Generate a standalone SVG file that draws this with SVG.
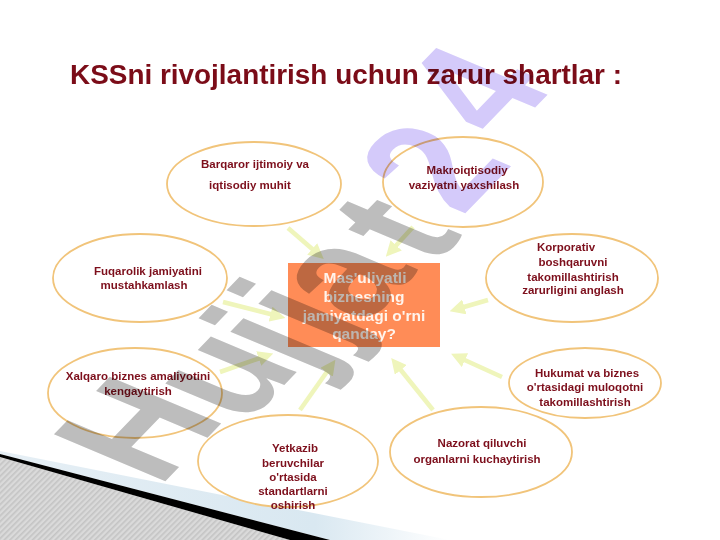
<svg xmlns="http://www.w3.org/2000/svg" width="720" height="540" viewBox="0 0 720 540">
<defs>
<style>
.ell{fill:#ffffff;stroke:#f1c47a;stroke-width:1.8}
.t{font-family:"Liberation Sans",Arial,sans-serif;font-weight:bold;font-size:11.5px;fill:#7d0f1c;text-anchor:middle}
.bt{font-family:"Liberation Sans",Arial,sans-serif;font-weight:bold;font-size:15.5px;fill:#fff4ec;text-anchor:middle}
.con{stroke:#eff5bb;stroke-width:4.5;fill:none;marker-end:url(#ah)}
.wm{font-family:"Liberation Sans",Arial,sans-serif;font-weight:bold;font-size:100px;text-anchor:middle;mix-blend-mode:multiply;fill:#bdbdbd}
.wp{fill:#d4cafa}
</style>
<marker id="ah" markerWidth="3.4" markerHeight="3.4" refX="1.7" refY="1.7" orient="auto" markerUnits="strokeWidth">
<path d="M0,0 L3.4,1.7 L0,3.4 Z" fill="#eff5bb"/>
</marker>
<pattern id="stripes" width="4" height="4" patternUnits="userSpaceOnUse" patternTransform="rotate(45)">
<rect width="4" height="4" fill="#dadada"/>
<rect width="1.6" height="4" fill="#c4c4c4"/>
</pattern>
<linearGradient id="blue" x1="0" y1="0" x2="1" y2="0">
<stop offset="0" stop-color="#e6eff5"/>
<stop offset="0.7" stop-color="#d9e8f1"/>
<stop offset="1" stop-color="#ffffff"/>
</linearGradient>
</defs>
<rect width="720" height="540" fill="#ffffff"/>
<g id="decoration">
<polygon points="0,451 450,540 330,540 0,454" fill="url(#blue)"/>
<polygon points="0,457 290,540 0,540" fill="url(#stripes)"/>
<polygon points="0,454 330,540 290,540 0,457" fill="#000000"/>
</g>
<g id="connectors">
<line class="con" x1="288" y1="228" x2="318" y2="254"/>
<line class="con" x1="413" y1="227" x2="391" y2="251"/>
<line class="con" x1="488" y1="300" x2="457" y2="309"/>
<line class="con" x1="502" y1="377" x2="458" y2="357"/>
<line class="con" x1="433" y1="410" x2="396" y2="364"/>
<line class="con" x1="300" y1="410" x2="331" y2="366"/>
<line class="con" x1="220" y1="372" x2="266" y2="356"/>
<line class="con" x1="223" y1="302" x2="278" y2="316"/>
</g>
<g id="n1">
<ellipse class="ell" cx="254" cy="184" rx="87" ry="42"/>
<text class="t" x="255" y="168">Barqaror ijtimoiy va</text>
<text class="t" x="250" y="189">iqtisodiy muhit</text>
</g>
<g id="n2">
<ellipse class="ell" cx="463" cy="182" rx="80" ry="45"/>
<text class="t" x="467" y="174">Makroiqtisodiy</text>
<text class="t" x="464" y="189">vaziyatni yaxshilash</text>
</g>
<g id="n3">
<ellipse class="ell" cx="140" cy="278" rx="87" ry="44"/>
<text class="t" x="148" y="275">Fuqarolik jamiyatini</text>
<text class="t" x="144" y="289">mustahkamlash</text>
</g>
<g id="n4">
<ellipse class="ell" cx="572" cy="278" rx="86" ry="44"/>
<text class="t" x="566" y="251">Korporativ</text>
<text class="t" x="573" y="266">boshqaruvni</text>
<text class="t" x="573" y="281">takomillashtirish</text>
<text class="t" x="573" y="294">zarurligini anglash</text>
</g>
<g id="n5">
<ellipse class="ell" cx="585" cy="383" rx="76" ry="35"/>
<text class="t" x="587" y="377">Hukumat va biznes</text>
<text class="t" x="585" y="391">o'rtasidagi muloqotni</text>
<text class="t" x="585" y="406">takomillashtirish</text>
</g>
<g id="n6">
<ellipse class="ell" cx="135" cy="393" rx="87" ry="45"/>
<text class="t" x="138" y="380">Xalqaro biznes amaliyotini</text>
<text class="t" x="138" y="395">kengaytirish</text>
</g>
<g id="n7">
<ellipse class="ell" cx="288" cy="461" rx="90" ry="46"/>
<text class="t" x="295" y="452">Yetkazib</text>
<text class="t" x="293" y="467">beruvchilar</text>
<text class="t" x="293" y="481">o'rtasida</text>
<text class="t" x="293" y="495">standartlarni</text>
<text class="t" x="293" y="509">oshirish</text>
</g>
<g id="n8">
<ellipse class="ell" cx="481" cy="452" rx="91" ry="45"/>
<text class="t" x="482" y="447">Nazorat qiluvchi</text>
<text class="t" x="477" y="463">organlarni kuchaytirish</text>
</g>
<g id="center">
<rect x="288" y="263" width="152" height="84" fill="#ff8c57"/>
<text class="bt" x="365" y="283">Mas'uliyatli</text>
<text class="bt" x="364" y="302">biznesning</text>
<text class="bt" x="364" y="321">jamiyatdagi o'rni</text>
<text class="bt" x="364" y="339">qanday?</text>
</g>
<g id="title">
<text x="70" y="84" font-family="'Liberation Sans',Arial,sans-serif" font-weight="bold" font-size="27" fill="#7b0c18" textLength="552" lengthAdjust="spacingAndGlyphs">KSSni rivojlantirish uchun zarur shartlar :</text>
</g>
<g id="watermark">
<text class="wm" transform="matrix(0.95,-0.98,1.62,0.68,135,428)" y="36">H</text>
<text class="wm" transform="matrix(0.95,-0.98,1.62,0.68,232,378)" y="26">u</text>
<text class="wm" transform="matrix(0.95,-0.98,1.62,0.68,282,344)" y="25">j</text>
<text class="wm" transform="matrix(0.95,-0.98,1.62,0.68,310,316)" y="25">j</text>
<text class="wm" transform="matrix(0.95,-0.98,1.62,0.68,350,280)" y="26">a</text>
<text class="wm" transform="matrix(0.95,-0.98,1.62,0.68,395,228)" y="33">t</text>
<text class="wm wp" transform="matrix(0.95,-0.98,1.62,0.68,430,165)" y="36">2</text>
<text class="wm wp" transform="matrix(0.95,-0.98,1.62,0.68,472,88)" y="36">4</text>
</g>
</svg>
